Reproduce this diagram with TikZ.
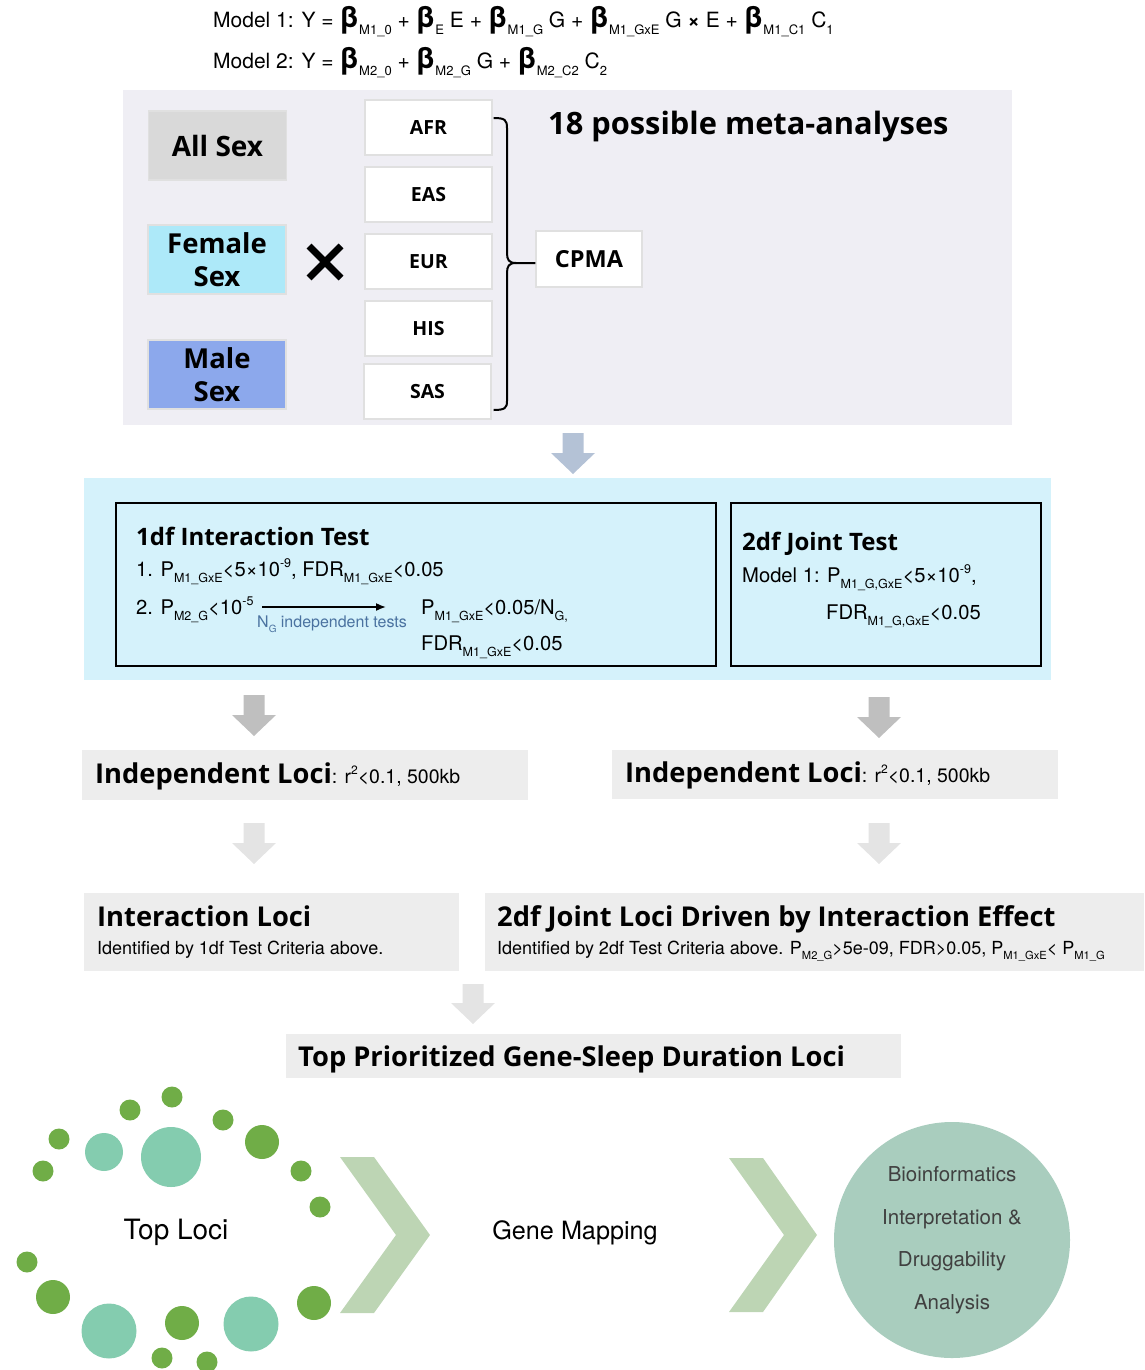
\documentclass[tikz,border=0pt]{standalone}
\usepackage{fontspec}
\setmainfont{TeX Gyre Heros}
\newfontfamily\osans{Open Sans}
\usetikzlibrary{calc,arrows.meta}
\newcommand\lowidx[1]{\raisebox{-0.32em}{\scalebox{0.62}{#1}}}
\newcommand\hiidx[1]{\raisebox{0.42em}{\scalebox{0.62}{#1}}}
\newcommand\fs[1]{\fontsize{#1}{#1}\selectfont}
\newcommand\bb{{\fontsize{29}{29}\selectfont\bfseries β}}
\definecolor{panelA}{HTML}{EFEEF4}
\definecolor{allc}{HTML}{D9D9D9}
\definecolor{femc}{HTML}{ADE9F9}
\definecolor{malec}{HTML}{8CA8EC}
\definecolor{arrA}{HTML}{B4C2D6}
\definecolor{panelB}{HTML}{D5F2FB}
\definecolor{arrB}{HTML}{BFBFBF}
\definecolor{arrC}{HTML}{E4E4E4}
\definecolor{locic}{HTML}{EDEDED}
\definecolor{dgreen}{HTML}{70AD47}
\definecolor{teal}{HTML}{84CCAF}
\definecolor{chev}{HTML}{BDD5B4}
\definecolor{bigc}{HTML}{A9CDBE}
\definecolor{bluetxt}{HTML}{4A72A0}
\newcommand\fatarr[4]{% x, ytop, ytip, colour
  \fill[#4] ({#1-10.5},#2) -- ({#1+10.5},#2) -- ({#1+10.5},{#3-21}) -- ({#1+22},{#3-21})
    -- (#1,#3) -- ({#1-22},{#3-21}) -- ({#1-10.5},{#3-21}) -- cycle;}
\tikzset{
  sexbox/.style={draw=black!12, line width=1.2, inner sep=0, minimum width=138, minimum height=69,
    font=\osans\bfseries\fontsize{27.5}{33}\selectfont, align=center},
  ethbox/.style={draw=black!12, fill=white, line width=1.2, inner sep=0, minimum width=127,
    minimum height=55, font=\osans\bfseries\fs{19.5}},
  panel/.style={anchor=north west, inner sep=0},
  testbox/.style={draw=black, line width=1.5, anchor=north west, inner sep=0},
  txt/.style={anchor=base west, inner sep=0, font=\fs{21}},
  ttxt/.style={anchor=base west, inner sep=0, font=\fs{20.2}},
  btitle/.style={anchor=base west, inner sep=0, font=\osans\bfseries\fs{27.3}},
  greyfill/.style={panel, fill=locic},
}
\begin{document}
\begin{tikzpicture}[x=1pt,y=-1pt]
\useasboundingbox (0,0) rectangle (1144,1370);
% formulas
\node[txt] (m1) at (213,28) {Model 1: Y = \bb\lowidx{M1\_0} + \bb\lowidx{E} E + \bb\lowidx{M1\_G} G + \bb\lowidx{M1\_GxE} G {\bfseries ×} E + \bb\lowidx{M1\_C1} C\lowidx{1}};
\node[txt] (m2) at (213,69) {Model 2: Y = \bb\lowidx{M2\_0} + \bb\lowidx{M2\_G} G + \bb\lowidx{M2\_C2} C\lowidx{2}};
% top panel
\node[panel, fill=panelA, minimum width=889, minimum height=335] (panA) at (123,90) {};
\node[sexbox, fill=allc, font=\osans\bfseries\fs{28}] (all) at (217.5,145.5) {All Sex};
\node[sexbox, fill=femc] (fem) at (217,259.5) {Female\\Sex};
\node[sexbox, fill=malec] (male) at (217,374.5) {Male\\Sex};
\coordinate (xc) at (325,262);
\draw[line width=7] ($(xc)+(-16,-16)$) -- ($(xc)+(16,16)$) ($(xc)+(-16,16)$) -- ($(xc)+(16,-16)$);
\node[ethbox] (afr) at (428.5,127.5) {AFR};
\node[ethbox] (eas) at (428.5,194.5) {EAS};
\node[ethbox] (eur) at (428.5,261.5) {EUR};
\node[ethbox] (his) at (428.5,328.5) {HIS};
\node[ethbox] (sas) at (427.5,391.5) {SAS};
\node[ethbox, minimum width=106, minimum height=56, font=\osans\bfseries\fs{23.5}] (cpma) at (589,259) {CPMA};
\node[anchor=base west, inner sep=0, font=\osans\bfseries\fs{30.8}] (title) at (548,135) {18 possible meta-analyses};
% brace
\coordinate (bt) at ($(afr.east)+(1,-9.5)$);
\coordinate (bb) at ($(sas.east)+(2,18.5)$);
\coordinate (tip) at (516,263);
\draw[line width=2] (bt) .. controls (505,118) and (507,120) .. (507,128) -- (507,253)
   .. controls (507,260) and (509,263) .. (tip) -- (cpma.west |- tip);
\draw[line width=2] (tip) .. controls (509,263) and (507,266) .. (507,273) -- (507,401)
   .. controls (507,408) and (505,410) .. (bb);
% arrow
\fatarr{573}{433}{474}{arrA}
% middle panel
\node[panel, fill=panelB, minimum width=967, minimum height=202] (panB) at (84,478) {};
\node[testbox, minimum width=600, minimum height=163] (t1) at (115,502) {};
\node[testbox, minimum width=310, minimum height=163] (t2) at (730,502) {};
\node[anchor=base west, inner sep=0, font=\osans\bfseries\fs{24}] (t1h) at (136,545) {1df Interaction Test};
\node[ttxt] (t1a) at (136,576) {1. P\lowidx{M1\_GxE}<5×10\hiidx{-9}, FDR\lowidx{M1\_GxE}<0.05};
\node[ttxt] (t1b) at (136,614) {2. P\lowidx{M2\_G}<10\hiidx{-5}};
\node[ttxt] (t1c) at (421,614) {P\lowidx{M1\_GxE}<0.05/N\lowidx{G,}};
\node[ttxt] (t1d) at (421,650) {FDR\lowidx{M1\_GxE}<0.05};
\node[ttxt, font=\fs{16}, text=bluetxt] (ng) at (257,627) {N\lowidx{G} independent tests};
\coordinate (ar1) at (262,607);
\coordinate (ar2) at (386,607);
\draw[line width=1.6, -{Latex[length=10,width=8]}] (ar1) -- (ar2);
\node[anchor=base west, inner sep=0, font=\osans\bfseries\fs{24}] (t2h) at (742,550) {2df Joint Test};
\node[ttxt] (t2a) at (742,582) {Model 1: P\lowidx{M1\_G,GxE}<5×10\hiidx{-9},};
\node[ttxt] (t2b) at (826,619) {FDR\lowidx{M1\_G,GxE}<0.05};
% arrows
\fatarr{254}{695}{736}{arrB}
\fatarr{879}{697}{738}{arrB}
% independent loci
\node[greyfill, minimum width=446, minimum height=50] (il1) at (82,750) {};
\node[greyfill, minimum width=446, minimum height=49] (il2) at (612,750) {};
\node[btitle] (il1t) at (95,783) {Independent Loci{\rmfamily\mdseries\fs{19.5}: r\hiidx{2}<0.1, 500kb}};
\node[btitle] (il2t) at (625,782) {Independent Loci{\rmfamily\mdseries\fs{19.5}: r\hiidx{2}<0.1, 500kb}};
\fatarr{254}{823}{864}{arrC}
\fatarr{879}{823}{864}{arrC}
% loci boxes
\node[greyfill, minimum width=375, minimum height=78] (ilc) at (84,893) {};
\node[greyfill, minimum width=659, minimum height=78] (jlc) at (485,893) {};
\node[btitle] (ilct) at (97,926) {Interaction Loci};
\node[txt, font=\fs{18}] (ilcs) at (97,954) {Identified by 1df Test Criteria above.};
\node[btitle] (jlct) at (497,926) {2df Joint Loci Driven by Interaction Effect};
\node[txt, font=\fs{18}] (jlcs) at (497,954) {Identified by 2df Test Criteria above. P\lowidx{M2\_G}>5e-09, FDR>0.05, P\lowidx{M1\_GxE}< P\lowidx{M1\_G}};
\fatarr{473}{984}{1024}{arrC}
\node[greyfill, minimum width=615, minimum height=44] (top) at (286,1034) {};
\node[btitle] (topt) at (298,1066) {Top Prioritized Gene-Sleep Duration Loci};
% dots
\foreach \x/\y in {172/1097,130/1110,59/1139,43/1171,223/1120,301/1171,320/1207,27/1262,162/1358,207/1362}
  \fill[dgreen] (\x,\y) circle (10.5);
\foreach \x/\y in {262/1142,53/1297,182/1323,314/1303}
  \fill[dgreen] (\x,\y) circle (17);
\fill[teal] (104,1152) circle (19);
\fill[teal] (171,1157) circle (30);
\fill[teal] (109,1331) circle (27.5);
\fill[teal] (251,1324) circle (27.5);
\node[font=\fs{28}] (toploci) at (176,1232) {Top Loci};
\fill[chev] (340,1157) -- (374,1157) -- (430,1235) -- (374,1313) -- (340,1313) -- (396,1235) -- cycle;
\node[font=\fs{25.2}] (gm) at (575,1233) {Gene Mapping};
\fill[chev] (729,1158) -- (763,1158) -- (817,1235) -- (763,1312) -- (729,1312) -- (784,1235) -- cycle;
\node[circle, fill=bigc, minimum size=236, inner sep=0, align=center, text=black!75,
  font=\fontsize{20.5}{42.5}\selectfont] (bio) at (952,1240) {Bioinformatics\\Interpretation \&\\Druggability\\Analysis};
\end{tikzpicture}
\end{document}
